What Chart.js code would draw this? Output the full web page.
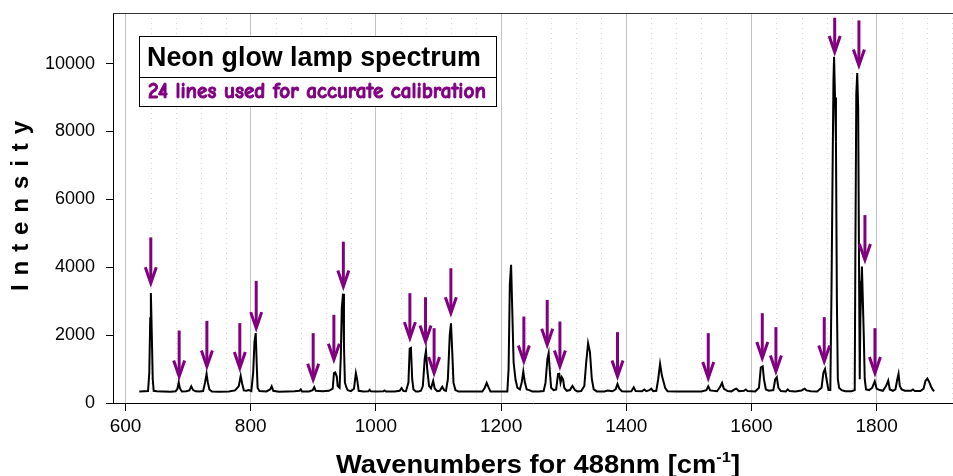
<!DOCTYPE html>
<html>
<head>
<meta charset="utf-8">
<script src="https://cdn.jsdelivr.net/npm/chart.js@4"></script>
<style>
  html, body { margin: 0; padding: 0; background: #ffffff; }
  #wrap { width: 953px; height: 476px; position: relative; }
</style>
</head>
<body>
<div id="wrap"><canvas id="chart" width="953" height="476"></canvas></div>
<script>
// Measured neon spectrum (wavenumber shift for 488 nm excitation, cm-1)
const wavenumbers = [
  622, 630, 636, 638, 639.5, 640.5, 642, 643.5, 645, 650, 660, 672, 680, 683, 685, 687, 690,
  697, 702, 705, 708, 712, 718, 724, 727, 729.5, 731.5, 734, 738, 750, 765, 775, 781, 784,
  786.5, 789, 793, 797, 801, 804, 806, 808, 809.5, 811, 814, 825, 831, 833.5, 836, 845, 858,
  870, 878, 880, 882, 893, 899, 901.5, 904, 915, 925, 931, 933, 935, 937.5, 939, 942, 944,
  945.5, 947.5, 949, 950.5, 953, 955, 960, 965, 968, 970, 972.5, 980, 988, 990, 992, 1000,
  1012, 1014, 1016, 1030, 1038, 1041, 1044, 1048, 1052, 1054, 1056, 1058, 1060, 1064, 1068,
  1072, 1075, 1078, 1080, 1082, 1085, 1088, 1091.5, 1094, 1098, 1102, 1106, 1109, 1112, 1115,
  1118, 1120, 1122, 1124, 1127, 1132, 1150, 1170, 1174, 1177, 1180, 1183, 1200, 1210, 1212,
  1214, 1216, 1218, 1220, 1223, 1226, 1230, 1233, 1235.5, 1238, 1241, 1245, 1250, 1260, 1268,
  1271, 1274, 1276, 1278, 1280, 1284, 1288, 1291, 1293, 1295, 1297, 1299, 1301, 1305, 1310,
  1314, 1318, 1322, 1328, 1333, 1336, 1339, 1342, 1345, 1348, 1353, 1365, 1370, 1373, 1378,
  1383, 1386, 1389, 1393, 1400, 1408, 1412, 1415, 1425, 1429, 1432, 1437, 1440, 1443, 1448,
  1451, 1454, 1457, 1460, 1462, 1466, 1480, 1500, 1520, 1528, 1531, 1534, 1545, 1550, 1553,
  1556, 1562, 1568, 1573, 1576, 1580, 1588, 1591, 1594, 1606, 1612, 1615, 1618, 1620, 1623,
  1628, 1635, 1638, 1640.5, 1643, 1647, 1655, 1658, 1661, 1670, 1680, 1685, 1688, 1695, 1705,
  1712, 1715, 1717.5, 1720, 1723, 1726, 1728, 1729.5, 1731, 1732, 1733.5, 1735, 1736.5, 1738,
  1740, 1744, 1750, 1760, 1765, 1766, 1767.5, 1769, 1770.5, 1772, 1773, 1774, 1776.5, 1778,
  1779.5, 1781, 1783, 1788, 1793, 1797, 1800, 1805, 1810, 1815, 1818.5, 1821, 1826, 1830,
  1833, 1835, 1837, 1840, 1845, 1855, 1858, 1861, 1870, 1875, 1878, 1881, 1884, 1887, 1890, 1892
];
const intensity = [
  340, 345, 350, 900, 2500, 3240, 2000, 700, 360, 345, 340, 335, 345, 420, 610, 430, 340,
  345, 370, 490, 380, 345, 340, 350, 600, 860, 600, 400, 340, 330, 340, 370, 500, 800,
  560, 370, 360, 380, 350, 900, 1800, 2060, 1200, 450, 350, 340, 400, 490, 360, 335, 340,
  345, 360, 400, 340, 340, 380, 470, 360, 345, 360, 420, 880, 900, 780, 500, 450, 1400,
  2800, 3220, 1700, 600, 450, 380, 350, 420, 880, 700, 360, 340, 345, 390, 345, 340,
  345, 370, 340, 340, 360, 440, 350, 345, 600, 1600, 1620, 700, 400, 340, 340,
  360, 500, 1300, 1540, 1000, 500, 430, 650, 430, 350, 360, 480, 380, 360, 700,
  2000, 2350, 1500, 600, 380, 340, 340, 340, 450, 590, 460, 340, 340, 340, 1000,
  3500, 4070, 2650, 1200, 700, 450, 400, 600, 930, 600, 400, 380, 340, 340, 350,
  600, 1300, 1470, 900, 450, 380, 400, 850, 860, 600, 760, 700, 450, 360, 380,
  500, 380, 340, 350, 500, 1200, 1760, 1500, 700, 400, 340, 340, 370, 360, 345,
  400, 560, 420, 345, 340, 345, 460, 350, 345, 400, 350, 380, 420, 350, 360,
  700, 1150, 800, 600, 450, 345, 340, 340, 340, 380, 490, 370, 345, 480, 590,
  420, 350, 340, 400, 420, 350, 360, 400, 350, 340, 450, 1050, 1080, 700, 400,
  360, 380, 700, 760, 450, 350, 340, 400, 350, 340, 370, 420, 370, 345, 340,
  450, 900, 1000, 700, 380, 380, 3500, 6600, 9500, 10200, 9000, 7700, 3000, 700,
  450, 380, 345, 345, 380, 4300, 9100, 9720, 8700, 3600, 700, 2500, 4020, 3000,
  1950, 700, 400, 380, 450, 640, 420, 380, 360, 500, 660, 400, 360, 400,
  700, 860, 500, 400, 360, 360, 400, 350, 350, 420, 650, 720, 620, 480, 380, 350
];

// The 24 neon lines picked for calibration: wavenumber, arrow tail and arrow tip (intensity units)
const calibrationLines = [640.4, 685.7, 730, 782.6, 808.8, 899.8, 932.9, 948, 1054.3, 1079.3, 1093, 1119.8,
                          1236.4, 1273.7, 1294, 1386, 1531, 1617.3, 1639.1, 1716.3, 1733, 1771.7, 1781.3, 1797.3];
const arrowTail = [4880, 2135, 2420, 2353, 3597, 2059, 2597, 4753, 3235, 3117, 2205, 3970,
                   2547, 3038, 2400, 2088, 2058, 2646, 2235, 2529, 11350, 11270, 5536, 2205];
const arrowTip  = [3530, 782, 1077, 1029, 2206, 685, 1274, 3430, 1911, 1811, 882, 2646,
                   1224, 1715, 1077, 782, 735, 1323, 929, 1223, 10340, 9946, 4213, 882];

const xTickValues = [600, 800, 1000, 1200, 1400, 1600, 1800];
const yTickValues = [0, 2000, 4000, 6000, 8000, 10000];
const minorGridStep = 40;

const titleText = 'Neon glow lamp spectrum';
const subtitleText = '24 lines used for accurate calibration';
const xTitleMain = 'Wavenumbers for 488nm [cm';
const xTitleSup = '-1';
const xTitleEnd = ']';
const yTitleText = 'Intensity';

const PURPLE = '#800080';
const SANS = '"Liberation Sans", Arial, sans-serif';

// Text fitted to a given width by choosing the font size
function fitFont(ctx, text, weight, family, width) {
  ctx.font = weight + ' 100px ' + family;
  const w = ctx.measureText(text).width;
  return 100 * width / w;
}

const decorations = {
  id: 'decorations',
  beforeDatasetsDraw(chart) {
    const { ctx, chartArea: a, scales: { x } } = chart;
    ctx.save();
    // dotted minor verticals
    ctx.strokeStyle = '#d6d6d6';
    ctx.lineWidth = 1;
    ctx.setLineDash([1, 4]);
    for (let v = 600; v <= x.max; v += minorGridStep) {
      if (v % 200 === 0) continue;
      const px = Math.round(x.getPixelForValue(v)) + 0.5;
      ctx.beginPath();
      ctx.moveTo(px, a.top);
      ctx.lineTo(px, a.bottom);
      ctx.stroke();
    }
    ctx.setLineDash([]);
    // top frame line
    ctx.strokeStyle = '#333333';
    ctx.beginPath();
    ctx.moveTo(a.left, Math.round(a.top) + 0.5);
    ctx.lineTo(a.right, Math.round(a.top) + 0.5);
    ctx.stroke();
    ctx.restore();
  },
  afterDatasetsDraw(chart) {
    const { ctx, scales: { x, y } } = chart;
    ctx.save();
    // calibration arrows
    ctx.strokeStyle = PURPLE;
    ctx.lineWidth = 3;
    ctx.lineCap = 'butt';
    ctx.lineJoin = 'miter';
    calibrationLines.forEach((w, i) => {
      const px = x.getPixelForValue(w);
      const pTail = y.getPixelForValue(arrowTail[i]);
      const pTip = y.getPixelForValue(arrowTip[i]);
      ctx.beginPath();
      ctx.moveTo(px, pTail);
      ctx.lineTo(px, pTip - 2);
      ctx.stroke();
      ctx.beginPath();
      ctx.moveTo(px - 5.5, pTip - 16);
      ctx.lineTo(px, pTip);
      ctx.lineTo(px + 5.5, pTip - 16);
      ctx.stroke();
    });

    // title box
    const bx = 139.5, by = 36.5, bw = 357, h1 = 41, h2 = 29;
    ctx.fillStyle = '#ffffff';
    ctx.fillRect(bx, by, bw, h1 + h2);
    ctx.strokeStyle = '#000000';
    ctx.lineWidth = 1;
    ctx.strokeRect(bx, by, bw, h1);
    ctx.strokeRect(bx, by + h1, bw, h2);
    ctx.fillStyle = '#000000';
    ctx.textAlign = 'center';
    ctx.textBaseline = 'alphabetic';
    let fs = fitFont(ctx, titleText, 'bold', SANS, 334);
    ctx.font = 'bold ' + fs.toFixed(2) + 'px ' + SANS;
    ctx.fillText(titleText, bx + bw / 2 - 4, by + 29);
    const comic = '"Comic Sans MS", "Comic Neue", "DejaVu Sans", sans-serif';
    fs = fitFont(ctx, subtitleText, 'bold', comic, 338);
    ctx.font = 'bold ' + fs.toFixed(2) + 'px ' + comic;
    ctx.fillStyle = PURPLE;
    ctx.strokeStyle = PURPLE;
    ctx.lineWidth = 0.9;
    ctx.fillText(subtitleText, bx + bw / 2 - 1, by + h1 + 20);
    ctx.strokeText(subtitleText, bx + bw / 2 - 1, by + h1 + 20);

    // y axis title, spaced letters, rotated
    ctx.save();
    ctx.translate(21, 206);
    ctx.rotate(-Math.PI / 2);
    ctx.fillStyle = '#000000';
    ctx.font = 'bold 24px ' + SANS;
    const plain = ctx.measureText(yTitleText).width;
    const spacing = (170 - plain) / (yTitleText.length - 1);
    let cx = -85;
    ctx.textAlign = 'left';
    ctx.textBaseline = 'middle';
    for (const ch of yTitleText) {
      ctx.fillText(ch, cx, 0);
      cx += ctx.measureText(ch).width + spacing;
    }
    ctx.restore();

    // x axis title with superscript
    ctx.save();
    ctx.fillStyle = '#000000';
    ctx.textAlign = 'left';
    ctx.textBaseline = 'alphabetic';
    const mainFont = 'bold 25px ' + SANS;
    const supFont = 'bold 15px ' + SANS;
    ctx.font = mainFont;
    const w1 = ctx.measureText(xTitleMain).width;
    const w3 = ctx.measureText(xTitleEnd).width;
    ctx.font = supFont;
    const w2 = ctx.measureText(xTitleSup).width;
    const total = w1 + w2 + w3;
    const target = 404;
    const sx = target / total;
    ctx.translate(336, 473);
    ctx.scale(sx, 1);
    ctx.font = mainFont;
    ctx.fillText(xTitleMain, 0, 0);
    ctx.font = supFont;
    ctx.fillText(xTitleSup, w1, -11);
    ctx.font = mainFont;
    ctx.fillText(xTitleEnd, w1 + w2, 0);
    ctx.restore();

    ctx.restore();
  }
};

const points = wavenumbers.map((w, i) => ({ x: w, y: intensity[i] }));

new Chart(document.getElementById('chart'), {
  type: 'line',
  data: {
    datasets: [{
      data: points,
      borderColor: '#000000',
      borderWidth: 2,
      pointRadius: 0,
      tension: 0,
      fill: false
    }]
  },
  options: {
    responsive: false,
    animation: false,
    events: [],
    layout: { padding: { top: 13, right: 0, left: 0, bottom: 0 } },
    plugins: { legend: { display: false }, tooltip: { enabled: false } },
    scales: {
      x: {
        type: 'linear',
        min: 580,
        max: 1922,
        afterBuildTicks(scale) { scale.ticks = xTickValues.map(v => ({ value: v })); },
        afterFit(scale) { scale.height = 73; scale.paddingLeft = 0; scale.paddingRight = 0; },
        grid: { color: '#c4c4c4', lineWidth: 1, tickColor: '#000000', tickLength: 8, drawOnChartArea: true },
        border: { color: '#000000', width: 1 },
        ticks: {
          color: '#000000', font: { family: SANS, size: 19 }, padding: 4, maxRotation: 0, autoSkip: false,
          callback: v => String(v)
        }
      },
      y: {
        type: 'linear',
        min: 0,
        max: 11490,
        afterBuildTicks(scale) { scale.ticks = yTickValues.map(v => ({ value: v })); },
        afterFit(scale) { scale.width = 113; scale.paddingTop = 0; scale.paddingBottom = 0; },
        grid: { drawOnChartArea: false, tickColor: '#000000', tickLength: 7 },
        border: { color: '#000000', width: 1 },
        ticks: {
          color: '#000000', font: { family: SANS, size: 18 }, padding: 11,
          callback: v => String(v)
        }
      }
    }
  },
  plugins: [decorations]
});
</script>
</body>
</html>
